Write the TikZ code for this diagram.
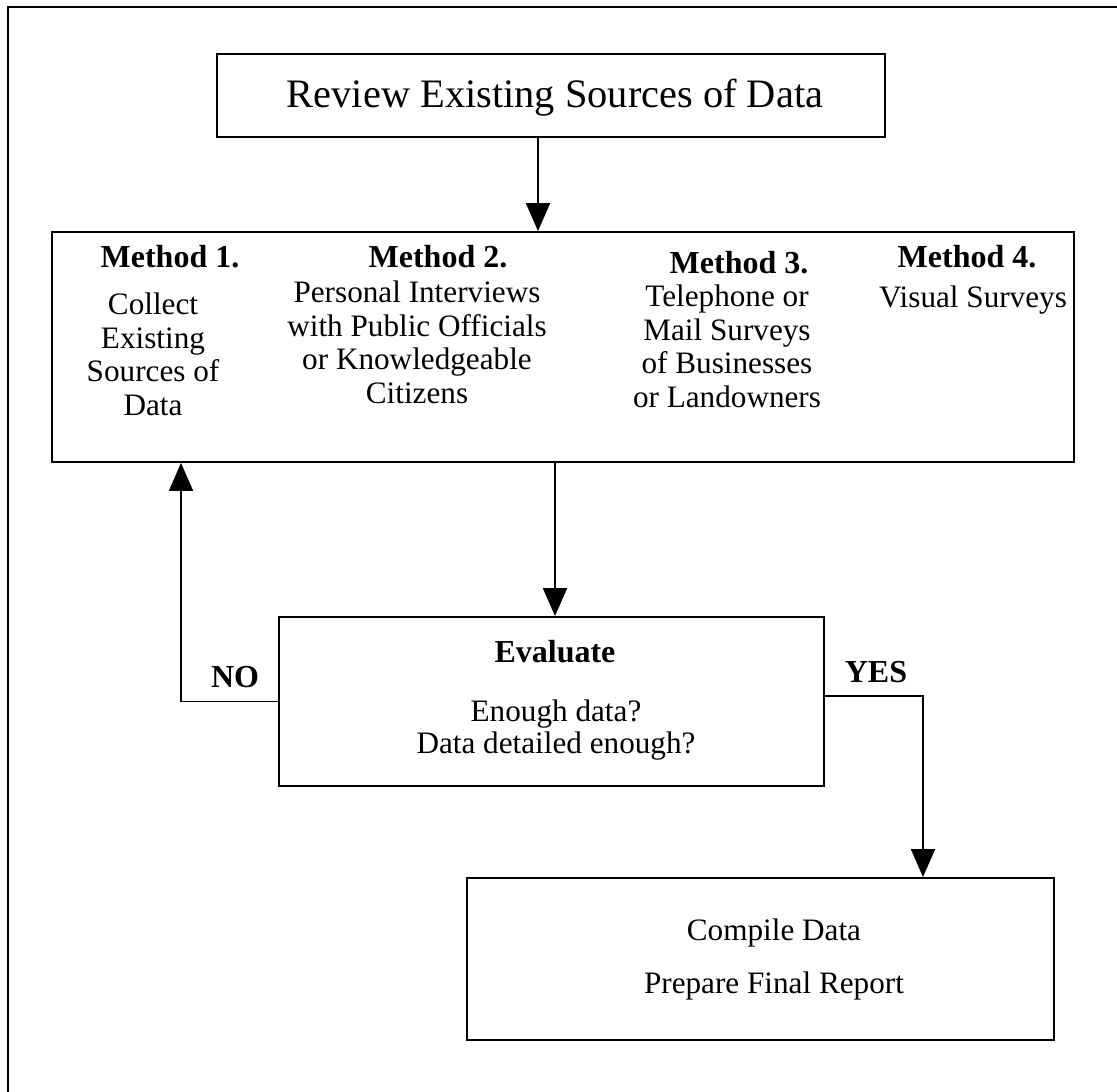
\documentclass[tikz,border=0pt]{standalone}
\usepackage{fontspec}
\setmainfont{Liberation Serif}
\usetikzlibrary{arrows.meta}
\newcommand\bodyfont{\fontsize{31.2}{33.5}\selectfont}
\newcommand\headfont{\fontsize{32}{33.5}\selectfont\bfseries}
\newcommand\bigfont{\fontsize{40.4}{46}\selectfont}
\begin{document}
\begin{tikzpicture}[x=1pt,y=-1pt,
  box/.style={draw, line width=1.9pt, rectangle, inner sep=0pt},
  txt/.style={font=\bodyfont, align=center, anchor=base, inner sep=0pt},
  hd/.style={font=\headfont, anchor=base, inner sep=0pt},
  arr/.style={line width=1.9pt, -{Triangle[width=24pt,length=28pt]}},
  conn/.style={line width=1.9pt}]
\useasboundingbox (0,0) rectangle (1117,1092);
% outer frame (cropped page border)
\coordinate (fbl) at (8,1092);
\coordinate (ftl) at (8,7);
\coordinate (ftr) at (1117,7);
\draw[conn] (fbl) -- (ftl) -- (ftr);
% boxes
\node[box, minimum width=668pt, minimum height=83pt] (top) at (551,95.5) {};
\node[box, minimum width=1022pt, minimum height=230pt] (meth) at (563,347) {};
\node[box, minimum width=545pt, minimum height=169pt] (eval) at (551.5,701.5) {};
\node[box, minimum width=587pt, minimum height=162pt] (comp) at (760.5,959) {};
% texts (multi-line nodes: base = last line's baseline)
\node[font=\bigfont, anchor=base, inner sep=0pt] (toptxt) at (555,107) {Review Existing Sources of Data};
\node[hd] (m1h) at (170,267) {Method 1.};
\node[txt] (m1t) at (153,415) {Collect\\Existing\\Sources of\\Data};
\node[hd] (m2h) at (438,267) {Method 2.};
\node[txt] (m2t) at (417,403) {Personal Interviews\\with Public Officials\\or Knowledgeable\\Citizens};
\node[hd] (m3h) at (739,273) {Method 3.};
\node[txt] (m3t) at (727,407) {Telephone or\\Mail Surveys\\of Businesses\\or Landowners};
\node[hd] (m4h) at (967,267) {Method 4.};
\node[txt] (m4t) at (973,307) {Visual Surveys};
\node[hd] (evh) at (555,662) {Evaluate};
\node[txt, font=\fontsize{31.2}{31.5}\selectfont] (evt) at (556,753) {Enough data?\\Data detailed enough?};
\node[txt] (ct) at (774,993) {Compile Data\\[19.5pt]Prepare Final Report};
\node[hd] (no) at (235,687) {NO};
\node[hd] (yes) at (876,682) {YES};
% connectors
\coordinate (t2m) at ([xshift=-13pt]top.south);
\draw[arr] (t2m) -- (t2m |- meth.north);
\coordinate (m2e) at ([xshift=3.5pt]eval.north);
\draw[arr] (m2e |- meth.south) -- (m2e);
\coordinate (nocol) at (181,0);
\draw[arr] (eval.west) -| (nocol |- meth.south);
\coordinate (yesrow) at ([yshift=5.5pt]eval.east);
\coordinate (yescol) at (923,0);
\draw[arr] (yesrow) -| (yescol |- comp.north);
\end{tikzpicture}
\end{document}
